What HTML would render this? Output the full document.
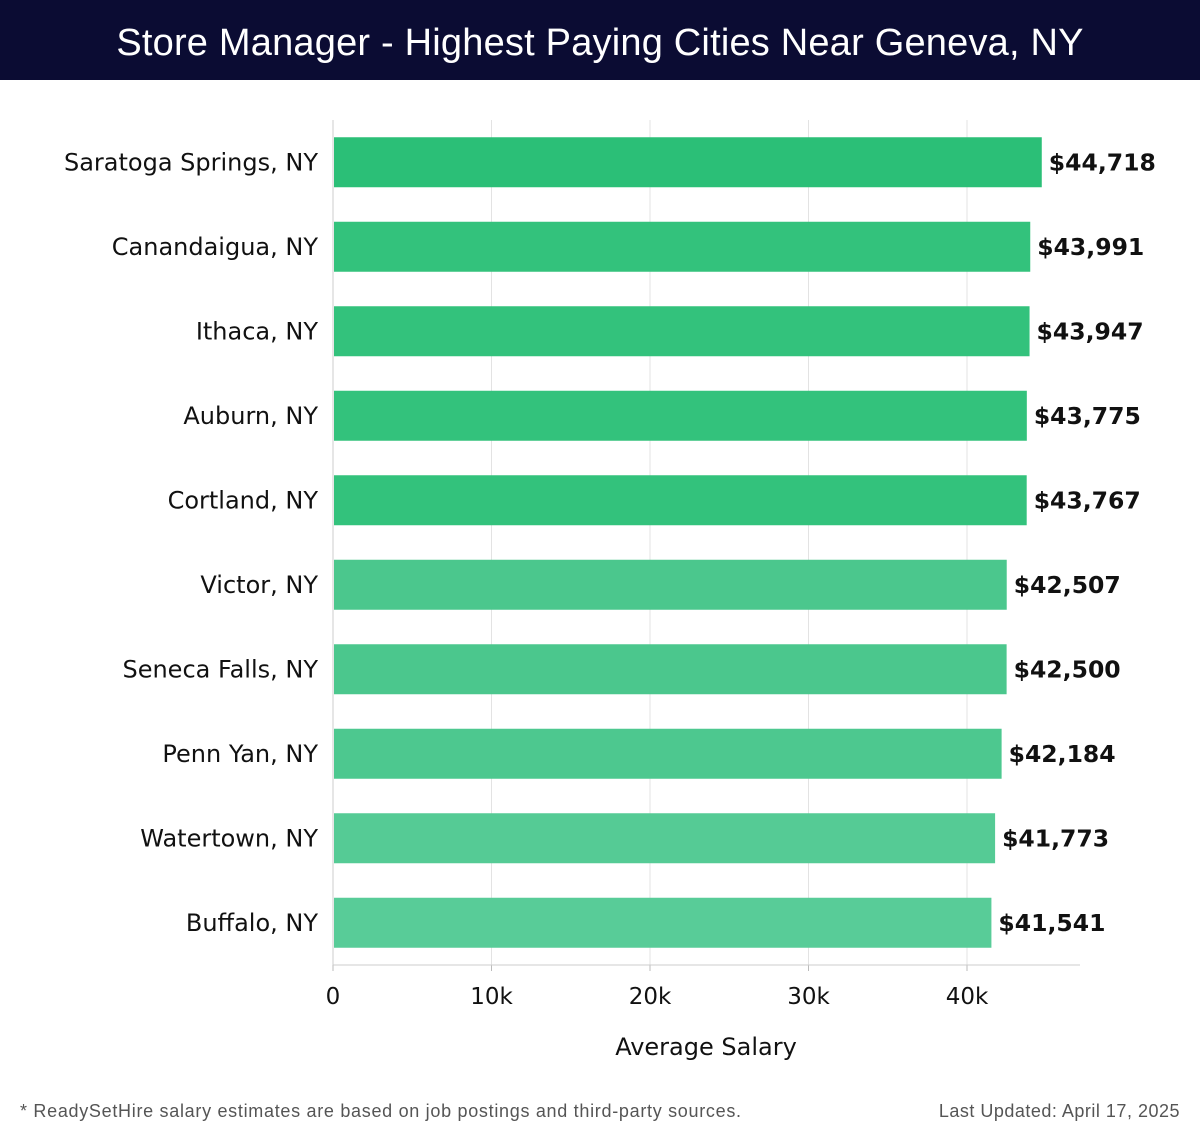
<!DOCTYPE html>
<html><head><meta charset="utf-8"><style>
body{margin:0;width:1200px;height:1140px;background:#fff;font-family:"Liberation Sans","DejaVu Sans",sans-serif;overflow:hidden;position:relative}
#hdr{position:absolute;left:0;top:0;width:1200px;height:80px;background:#0b0c33;color:#fff;font-size:38px;text-align:center;line-height:86px;letter-spacing:0.2px}
.foot{position:absolute;top:1101px;font-size:18px;color:#555;letter-spacing:0.7px}
svg text{font-family:"DejaVu Sans",sans-serif}
</style></head><body>
<div id="hdr">Store Manager - Highest Paying Cities Near Geneva, NY</div>
<svg id="c" width="1200" height="1140" style="position:absolute;left:0;top:0"></svg>
<div class="foot" style="left:20px">* ReadySetHire salary estimates are based on job postings and third-party sources.</div>
<div class="foot" style="right:20px;letter-spacing:0.5px">Last Updated: April 17, 2025</div>
<script>
const cities=["Saratoga Springs, NY","Canandaigua, NY","Ithaca, NY","Auburn, NY","Cortland, NY","Victor, NY","Seneca Falls, NY","Penn Yan, NY","Watertown, NY","Buffalo, NY"];
const salaries=[44718,43991,43947,43775,43767,42507,42500,42184,41773,41541];
const ticks=[0,10000,20000,30000,40000];
const tickLabels=["0","10k","20k","30k","40k"];
const colors=["#2bbf77","#33c27c","#33c27c","#33c27c","#33c27c","#4bc78d","#4bc78d","#4dc88f","#55cb95","#58cc98"];
const svg=document.getElementById('c');const NS="http://www.w3.org/2000/svg";
const x0=333,x1=1080,top0=120,bot=965,maxV=47130;
const xs=v=>x0+v/maxV*(x1-x0);
const band=(bot-top0)/cities.length;
function mk(t,a,p){const e=document.createElementNS(NS,t);for(const k in a)e.setAttribute(k,a[k]);(p||svg).appendChild(e);return e;}
ticks.forEach((t,i)=>{
 if(i>0){const g=mk('line',{x1:xs(t),x2:xs(t),y1:top0,y2:bot,stroke:'#e3e3e3','stroke-width':1});
 
 }
 const tk=mk('line',{x1:xs(t),x2:xs(t),y1:bot,y2:bot+6,stroke:'#bbb'});
 
 
 const l=mk('text',{x:xs(t),y:1004,'text-anchor':'middle','font-size':23,fill:'#111'});l.textContent=tickLabels[i];
 
 
});
const ax=mk('line',{x1:x0,x2:x1,y1:bot,y2:bot,stroke:'#ccc'});


const ay=mk('line',{x1:x0,x2:x0,y1:top0,y2:bot,stroke:'#ccc'});


cities.forEach((c,i)=>{
 const cy=top0+band*(i+0.5);
 const r=mk('rect',{x:x0+1,y:cy-25,width:xs(salaries[i])-x0-1,height:50,fill:colors[i]});
 
 
 const l=mk('text',{x:318,y:cy+8,'text-anchor':'end','font-size':24,fill:'#111'});l.textContent=c;
 
 
 const v=mk('text',{x:xs(salaries[i])+7,y:cy+8,'font-size':23.5,'font-weight':'bold',fill:'#111'});v.textContent='$'+salaries[i].toLocaleString('en-US');
 
 
});
const t=mk('text',{x:706,y:1055,'text-anchor':'middle','font-size':24,fill:'#111'});t.textContent='Average Salary';


</script>
</body></html>
